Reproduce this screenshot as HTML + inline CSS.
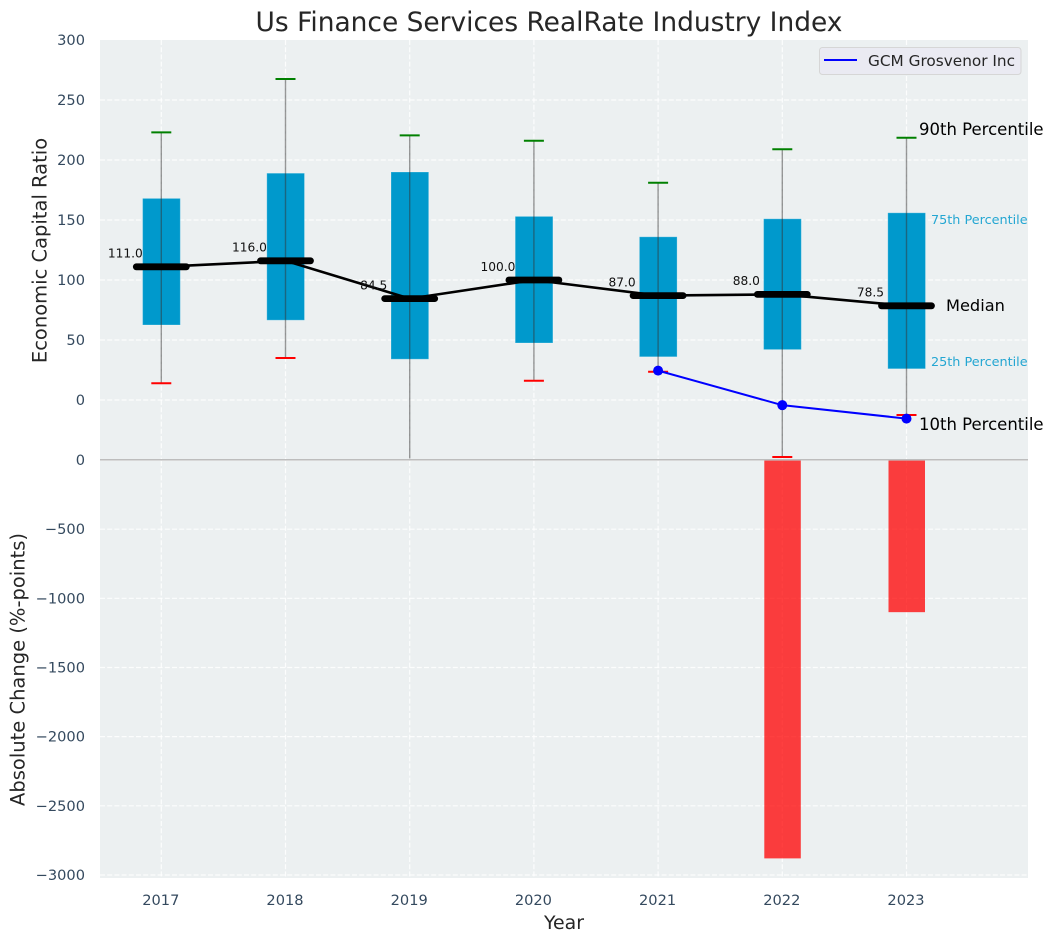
<!DOCTYPE html>
<html lang="en">
<head>
<meta charset="utf-8">
<title>Us Finance Services RealRate Industry Index</title>
<style>
html,body{margin:0;padding:0;background:#fff;}
svg{display:block;font-family:"DejaVu Sans","Liberation Sans",sans-serif;}
</style>
</head>
<body>
<svg id="chart" xmlns="http://www.w3.org/2000/svg" width="1054" height="942" viewBox="0 0 1054 942">
  <defs>
    <clipPath id="top-clip"><rect x="100" y="40" width="928" height="418.5"/></clipPath>
  </defs>
  <rect x="0" y="0" width="1054" height="942" fill="#ffffff"/>
  <rect x="100" y="40" width="928" height="419" fill="#ecf0f1"/>
  <rect x="100" y="461" width="928" height="417" fill="#ecf0f1"/>
  <g id="grid"></g>
  <g id="ticks"></g>
  <g id="bars"></g>
  <g id="boxes" clip-path="url(#top-clip)"></g>
  <g id="whiskers" clip-path="url(#top-clip)"></g>
  <g id="medians"></g>
  <g id="peer"></g>
  <g id="notes"></g>
  <rect x="100" y="459" width="928" height="1.6" fill="#bdbdbd"/>
  <text x="549" y="31" text-anchor="middle" font-size="26.45" fill="#262626">Us Finance Services RealRate Industry Index</text>
  <text x="564" y="929" text-anchor="middle" font-size="18.9" fill="#262626">Year</text>
  <text transform="translate(46.5 250.5) rotate(-90)" text-anchor="middle" font-size="19.5" fill="#262626">Economic Capital Ratio</text>
  <text transform="translate(24.5 669.5) rotate(-90)" text-anchor="middle" font-size="19.5" fill="#262626">Absolute Change (%-points)</text>
  <g>
    <rect x="819.5" y="47.5" width="201.5" height="27" rx="3" fill="#eaeaf2" stroke="#d6d6d6" stroke-width="1"/>
    <line x1="824" y1="60" x2="857" y2="60" stroke="#0000ff" stroke-width="2"/>
    <text x="868" y="66" font-size="15.3" fill="#262626">GCM Grosvenor Inc</text>
  </g>
</svg>
<script>
const years = [2017, 2018, 2019, 2020, 2021, 2022, 2023];
const p25 = [62.5, 66.5, 34, 47.5, 36, 42, 26];
const p75 = [168, 189, 190, 153, 136, 151, 156];
const p90 = [223, 267.5, 220.5, 216, 181, 209, 218.5];
const p10 = [14, 35, -60, 16, 23.5, -47.5, -12.5];
const medianValues = [111, 116, 84.5, 100, 87, 88, 78.5];
const peerYears = [2021, 2022, 2023];
const peerValues = [24.5, -4.3, -15.5];
const changeYears = [2022, 2023];
const changeValues = [-2880, -1100];
const topTicks = [300, 250, 200, 150, 100, 50, 0];
const bottomTicks = [0, -500, -1000, -1500, -2000, -2500, -3000];

const SVGNS = 'http://www.w3.org/2000/svg';
function xScale(year) { return 161.3 + (year - 2017) * 124.2; }
function yTop(value) { return 400 - value * 1.2; }
function yBottom(value) { return 460 - value * 0.13833; }

function make(parentId, tag, attrs, content) {
  const el = document.createElementNS(SVGNS, tag);
  for (const key in attrs) el.setAttribute(key, attrs[key]);
  if (content !== undefined) el.textContent = content;
  document.getElementById(parentId).appendChild(el);
  return el;
}
function label(value) { return String(value).replace('-', '\u2212'); }

const gridStyle = { stroke: '#ffffff', 'stroke-width': 1.2, 'stroke-dasharray': '5 2.2', 'stroke-opacity': 0.85 };

topTicks.forEach(function (t) {
  if (t !== 300) {
    const line = make('grid', 'line', Object.assign({ x1: 100, x2: 1028, y1: yTop(t), y2: yTop(t) }, gridStyle));
    
    
  }
  const text = make('ticks', 'text', { x: 85, y: yTop(t) + 5, 'text-anchor': 'end', 'font-size': 14.6, fill: '#34495e' }, label(t));
  
  
});

bottomTicks.forEach(function (t) {
  if (t !== 0) {
    const line = make('grid', 'line', Object.assign({ x1: 100, x2: 1028, y1: yBottom(t), y2: yBottom(t) }, gridStyle));
    
    
  }
  const text = make('ticks', 'text', { x: 85, y: yBottom(t) + 5, 'text-anchor': 'end', 'font-size': 14.6, fill: '#34495e' }, label(t));
  
  
});

years.forEach(function (year, i) {
  const x = xScale(year);

  const upperGrid = make('grid', 'line', Object.assign({ x1: x, x2: x, y1: 40, y2: 459 }, gridStyle));
  
  

  const lowerGrid = make('grid', 'line', Object.assign({ x1: x, x2: x, y1: 461, y2: 878 }, gridStyle));
  
  

  const tick = make('ticks', 'text', { x: x - 0.5, y: 905, 'text-anchor': 'middle', 'font-size': 14.6, fill: '#34495e' }, String(year));
  
  

  const box = make('boxes', 'rect', {
    x: x - 18.7, width: 37.7,
    y: yTop(p75[i]), height: yTop(p25[i]) - yTop(p75[i]),
    fill: '#0099cc', stroke: '#ffffff', 'stroke-opacity': 0.25, 'stroke-width': 1
  });
  
  

  const whisker = make('whiskers', 'line', {
    x1: x, x2: x, y1: yTop(p90[i]), y2: yTop(p10[i]),
    stroke: '#333333', 'stroke-opacity': 0.5, 'stroke-width': 1.4
  });
  
  

  const highCap = make('whiskers', 'line', {
    x1: x - 10, x2: x + 10, y1: yTop(p90[i]), y2: yTop(p90[i]),
    stroke: '#008000', 'stroke-width': 2
  });
  
  

  const lowCap = make('whiskers', 'line', {
    x1: x - 10, x2: x + 10, y1: yTop(p10[i]), y2: yTop(p10[i]),
    stroke: '#ff0000', 'stroke-width': 2
  });
  
  
});

changeYears.forEach(function (year, i) {
  const x = xScale(year);
  const bar = make('bars', 'rect', {
    x: x - 18, width: 36.5,
    y: yBottom(0), height: yBottom(changeValues[i]) - yBottom(0),
    fill: '#ff0000', 'fill-opacity': 0.75
  });
  
  
});

const medianPath = make('medians', 'polyline', {
  points: years.map(function (year, i) { return xScale(year) + ',' + yTop(medianValues[i]); }).join(' '),
  fill: 'none', stroke: '#000000', 'stroke-width': 2.6
});



years.forEach(function (year, i) {
  const x = xScale(year);
  const y = yTop(medianValues[i]);
  const bar = make('medians', 'line', {
    x1: x - 25, x2: x + 25, y1: y, y2: y,
    stroke: '#000000', 'stroke-width': 6.8, 'stroke-linecap': 'round'
  });
  
  

  const value = make('medians', 'text', {
    x: x - 36, y: y - 9.2, 'text-anchor': 'middle', 'font-size': 12.2, fill: '#111111'
  }, medianValues[i].toFixed(1));
  
  
});

const peerPath = make('peer', 'polyline', {
  points: peerYears.map(function (year, i) { return xScale(year) + ',' + yTop(peerValues[i]); }).join(' '),
  fill: 'none', stroke: '#0000ff', 'stroke-width': 2
});



peerYears.forEach(function (year, i) {
  const dot = make('peer', 'circle', { cx: xScale(year), cy: yTop(peerValues[i]), r: 5, fill: '#0000ff' });
  
  
});

const last = years.length - 1;
const lastX = xScale(years[last]);

const noteP90 = make('notes', 'text', { x: lastX + 12.5, y: yTop(p90[last]) - 3, 'font-size': 16.5, fill: '#000000' }, '90th Percentile');



const noteP75 = make('notes', 'text', { x: lastX + 24.5, y: yTop(p75[last]) + 11, 'font-size': 12.8, fill: '#0099cc', 'fill-opacity': 0.85 }, '75th Percentile');



const noteMedian = make('notes', 'text', { x: lastX + 39.5, y: yTop(medianValues[last]) + 5.2, 'font-size': 16.2, fill: '#000000' }, 'Median');



const noteP25 = make('notes', 'text', { x: lastX + 24.5, y: yTop(p25[last]) - 3, 'font-size': 12.8, fill: '#0099cc', 'fill-opacity': 0.85 }, '25th Percentile');



const noteP10 = make('notes', 'text', { x: lastX + 12.5, y: yTop(p10[last]) + 15, 'font-size': 16.5, fill: '#000000' }, '10th Percentile');


</script>
</body>
</html>
